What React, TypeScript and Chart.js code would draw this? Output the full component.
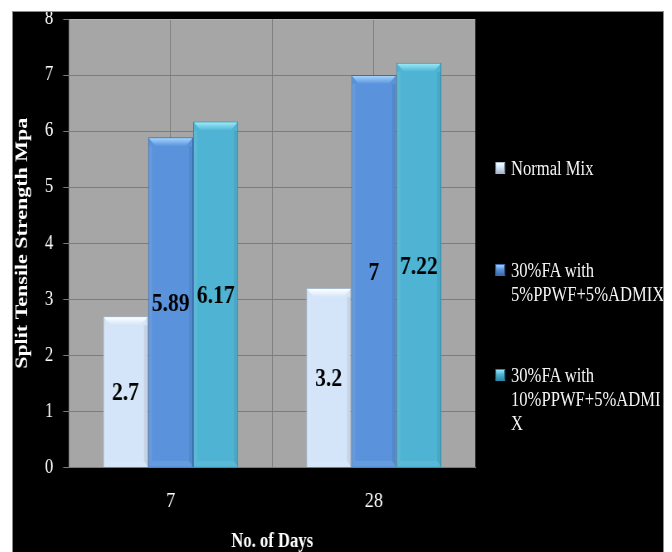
import React, { useEffect, useRef } from "react";
import { Chart, registerables } from "chart.js";

Chart.register(...registerables);

// Curing age (days) on the category axis
const days = ["7", "28"];

// Split tensile strength (MPa) per mix
const normalMix = [2.7, 3.2];
const fa5Ppwf = [5.89, 7];
const fa10Ppwf = [6.17, 7.22];

const seriesNames = [
  "Normal Mix",
  "30%FA with 5%PPWF+5%ADMIX",
  "30%FA with 10%PPWF+5%ADMIX",
];
const legendLines = [
  ["Normal Mix"],
  ["30%FA with", "5%PPWF+5%ADMIX"],
  ["30%FA with", "10%PPWF+5%ADMI", "X"],
];

const yMin = 0;
const yMax = 8;
const yStep = 1;

const faceColors = ["#d4e5fa", "#5a93dc", "#4fb4d3"];
const edgeColors = ["#a7b9d0", "#3b6dac", "#2e8ba7"];
const capColors = ["#ffffff", "#a3d2fc", "#98e8f8"];

const SERIF = "'Liberation Serif', 'Times New Roman', serif";
const GRID = "#7c7c7c";
const PLOT_BG = "#a6a6a6";

// The whole figure is laid out wide and then condensed horizontally.
const SQUEEZE = 0.83;
const PANEL_W = 650;
const PANEL_H = 540;
const INNER_W = Math.round(PANEL_W / SQUEEZE);

const legendTops = [144, 246, 351];

const plotBackground = {
  id: "plotBackground",
  beforeDraw(chart: any) {
    const { ctx, chartArea } = chart;
    ctx.save();
    ctx.fillStyle = PLOT_BG;
    ctx.fillRect(chartArea.left, chartArea.top, chartArea.right - chartArea.left, chartArea.bottom - chartArea.top);
    ctx.restore();
  },
};

// Gridlines on the boundaries between categories (the scale grid covers the centres)
const categoryDividers = {
  id: "categoryDividers",
  beforeDatasetsDraw(chart: any) {
    const { ctx, chartArea } = chart;
    const xs = chart.scales.x;
    ctx.save();
    ctx.strokeStyle = GRID;
    ctx.lineWidth = 1;
    for (let i = 0; i < xs.ticks.length - 1; i++) {
      const mid = Math.round((xs.getPixelForTick(i) + xs.getPixelForTick(i + 1)) / 2) + 0.5;
      ctx.beginPath();
      ctx.moveTo(mid, chartArea.top);
      ctx.lineTo(mid, chartArea.bottom);
      ctx.stroke();
    }
    ctx.restore();
  },
};

// Bevelled bar faces plus centred value labels
const bevelAndLabels = {
  id: "bevelAndLabels",
  afterDatasetsDraw(chart: any) {
    const { ctx } = chart;
    chart.data.datasets.forEach((ds: any, di: number) => {
      const meta = chart.getDatasetMeta(di);
      meta.data.forEach((bar: any, i: number) => {
        const { x, y, base, width } = bar.getProps(["x", "y", "base", "width"], true);
        const l = x - width / 2 + 1;
        const r = x + width / 2 - 1;
        const t = y + 1;
        const b = base - 1;
        const bx = 8;
        const by = 8;
        const sx = 4;
        ctx.save();
        // top cap
        const g = ctx.createLinearGradient(0, t, 0, t + by);
        g.addColorStop(0, capColors[di]);
        g.addColorStop(1, faceColors[di]);
        ctx.fillStyle = g;
        ctx.beginPath();
        ctx.moveTo(l, t);
        ctx.lineTo(r, t);
        ctx.lineTo(r - bx, t + by);
        ctx.lineTo(l + bx, t + by);
        ctx.closePath();
        ctx.fill();
        // left face
        ctx.fillStyle = "rgba(255,255,255,0.07)";
        ctx.beginPath();
        ctx.moveTo(l, t + by);
        ctx.lineTo(l + sx, t + by);
        ctx.lineTo(l + sx, b - 5);
        ctx.lineTo(l, b);
        ctx.closePath();
        ctx.fill();
        // right face
        ctx.fillStyle = "rgba(0,0,0,0.07)";
        ctx.beginPath();
        ctx.moveTo(r, t + by);
        ctx.lineTo(r - sx, t + by);
        ctx.lineTo(r - sx, b - 5);
        ctx.lineTo(r, b);
        ctx.closePath();
        ctx.fill();
        // bottom face
        ctx.fillStyle = "rgba(255,255,255,0.08)";
        ctx.beginPath();
        ctx.moveTo(l, b);
        ctx.lineTo(l + sx, b - 5);
        ctx.lineTo(r - sx, b - 5);
        ctx.lineTo(r, b);
        ctx.closePath();
        ctx.fill();
        // value label
        const v = ds.data[i];
        ctx.fillStyle = "#000";
        ctx.font = `bold 26px ${SERIF}`;
        ctx.textAlign = "center";
        ctx.textBaseline = "middle";
        ctx.fillText(String(v), x, (y + base) / 2 + 2);
        ctx.restore();
      });
    });
  },
};

export default function App() {
  const canvasRef = useRef<HTMLCanvasElement | null>(null);

  useEffect(() => {
    const canvas = canvasRef.current;
    if (!canvas) return;
    const seriesValues = [normalMix, fa5Ppwf, fa10Ppwf];
    const chart = new Chart(canvas, {
      type: "bar",
      data: {
        labels: days,
        datasets: seriesValues.map((vals, k) => ({
          label: seriesNames[k],
          data: vals,
          backgroundColor: faceColors[k],
          borderColor: edgeColors[k],
          borderWidth: 1,
          categoryPercentage: 0.665,
          barPercentage: 1,
        })),
      },
      options: {
        responsive: false,
        animation: false,
        devicePixelRatio: 1,
        layout: { padding: { top: 7, right: INNER_W - 557, left: 0, bottom: 0 } },
        plugins: {
          legend: { display: false },
          tooltip: { enabled: false },
        },
        scales: {
          x: {
            grid: { offset: false, color: GRID, drawTicks: false, lineWidth: 1 },
            border: { color: "#7a7a7a", width: 1 },
            ticks: { color: "#ffffff", font: { family: SERIF, size: 22 }, padding: 21 },
            title: {
              display: true,
              text: "No. of Days",
              color: "#ffffff",
              font: { family: SERIF, size: 20, weight: "bold", lineHeight: 1 },
              padding: 0,
            },
            afterFit: (s: any) => {
              s.height = 84.5;
            },
          },
          y: {
            min: yMin,
            max: yMax,
            ticks: {
              stepSize: yStep,
              color: "#ffffff",
              font: { family: SERIF, size: 20 },
              padding: 12,
            },
            grid: {
              color: (c: any) => (c.tick && c.tick.value === yMax ? "#b3b3b3" : GRID),
              tickColor: "#7a7a7a",
              tickLength: 7,
              lineWidth: 1,
            },
            border: { color: "#7a7a7a", width: 1 },
            title: {
              display: true,
              text: "Split Tensile Strength Mpa",
              color: "#ffffff",
              font: { family: SERIF, size: 22, weight: "bold", lineHeight: 1 },
              padding: 0,
            },
            afterFit: (s: any) => {
              s.width = 67.5;
              s.paddingTop = 0;
              s.paddingBottom = 0;
            },
          },
        },
      },
      plugins: [plotBackground, categoryDividers, bevelAndLabels],
    } as any);
    return () => chart.destroy();
  }, []);

  const swatch = (k: number) =>
    `linear-gradient(180deg, ${capColors[k]} 0%, ${faceColors[k]} 45%, ${edgeColors[k]} 100%)`;

  return (
    <div
      style={{
        position: "fixed",
        left: 13,
        top: 12,
        width: PANEL_W,
        height: PANEL_H,
        background: "#000",
        overflow: "hidden",
        outline: "1px solid #8c8c8c",
      }}
    >
      <div
        style={{
          position: "absolute",
          left: 0,
          top: 0,
          width: INNER_W,
          height: PANEL_H,
          transform: `scaleX(${SQUEEZE})`,
          transformOrigin: "0 0",
        }}
      >
        <canvas
          ref={canvasRef}
          width={INNER_W}
          height={PANEL_H}
          style={{ display: "block", width: INNER_W, height: PANEL_H }}
        />
        {legendLines.map((lines, k) => (
          <div
            key={k}
            style={{
              position: "absolute",
              left: 581,
              top: legendTops[k],
              display: "flex",
              alignItems: "flex-start",
            }}
          >
            <span
              style={{
                display: "block",
                width: 12,
                height: 12,
                marginTop: 6,
                background: swatch(k),
                boxSizing: "border-box",
                border: `1px solid ${edgeColors[k]}`,
              }}
            />
            <div
              style={{
                marginLeft: 7,
                color: "#f4f4f4",
                fontFamily: SERIF,
                fontSize: 20,
                lineHeight: "24px",
                whiteSpace: "nowrap",
              }}
            >
              {lines.map((line, j) => (
                <div key={j}>{line}</div>
              ))}
            </div>
          </div>
        ))}
      </div>
    </div>
  );
}
